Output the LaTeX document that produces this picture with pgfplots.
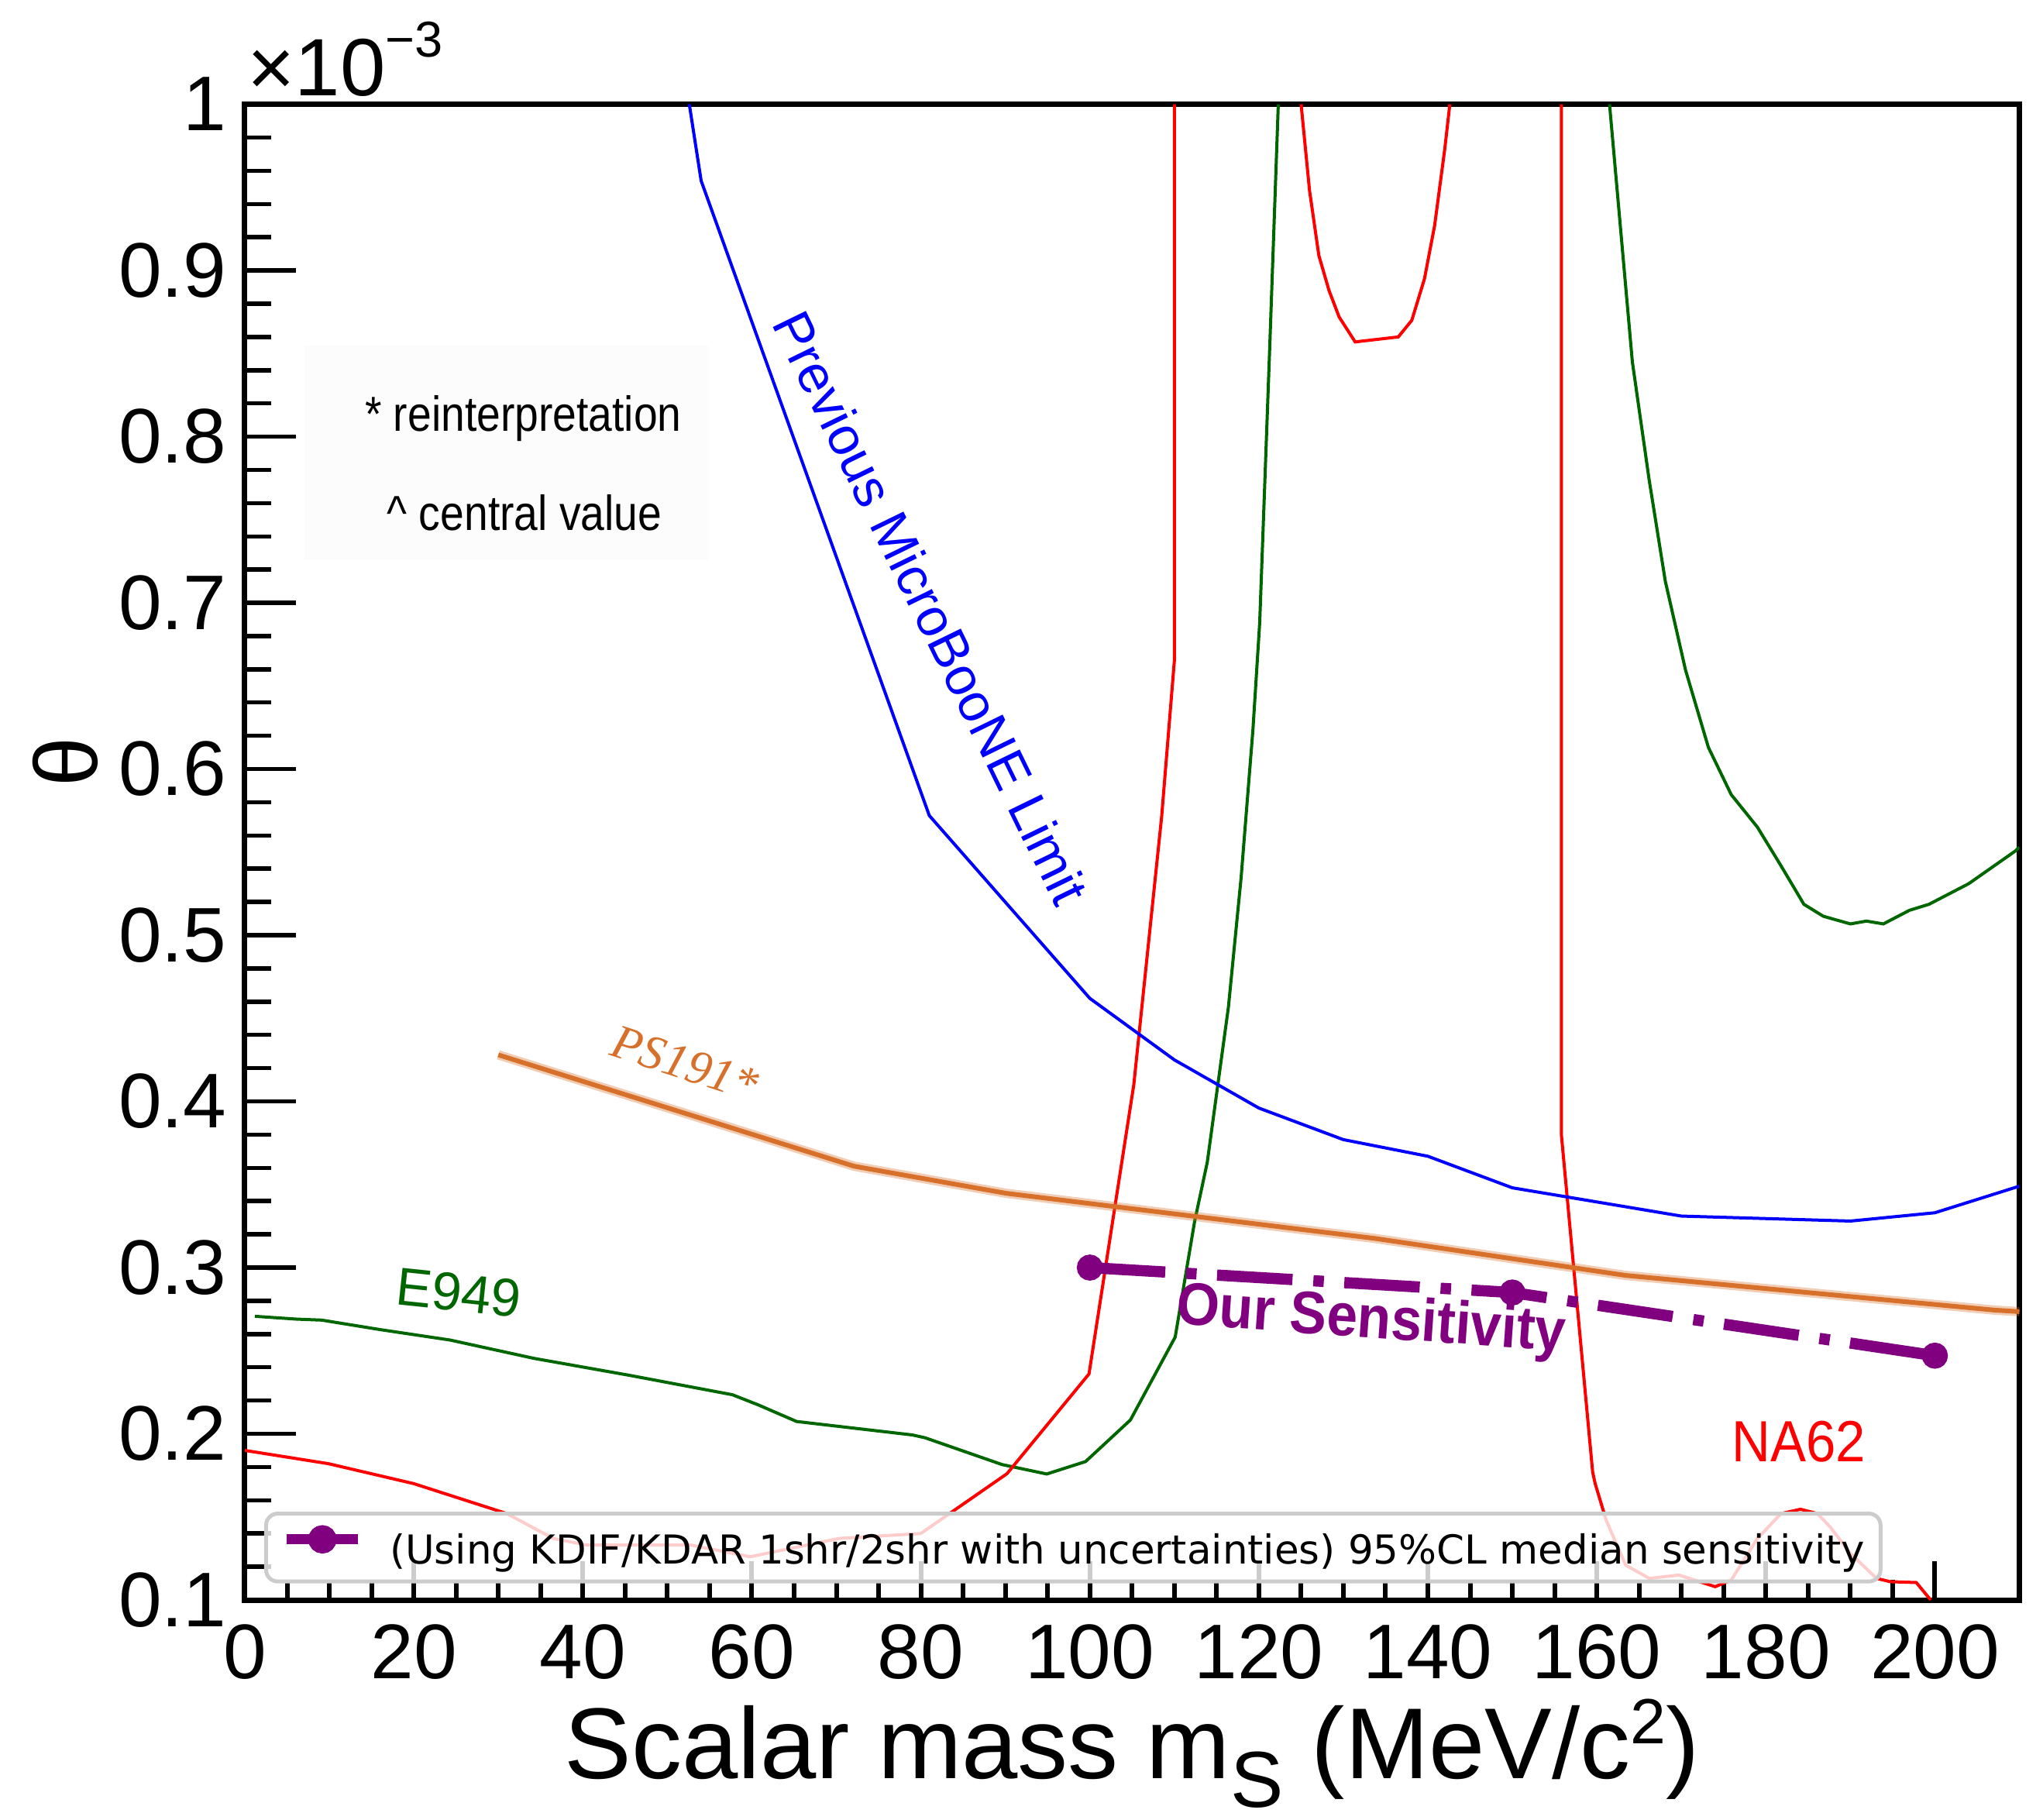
\documentclass[border=0pt]{standalone}
\usepackage{fontspec}
\setmainfont{Liberation Sans}
\newfontfamily\narrowfont{Liberation Sans}[FakeStretch=0.87]
\newfontfamily\boldnarrow{Liberation Sans}[FakeStretch=0.92]
\newfontfamily\serifit{Liberation Serif}
\newfontfamily\legfont{DejaVu Sans}
\usepackage{pgfplots}
\pgfplotsset{compat=1.18}
\definecolor{rgreen}{RGB}{0,102,0}
\definecolor{rorange}{RGB}{214,112,42}
\definecolor{rpurple}{RGB}{128,0,128}
\begin{document}
\begin{tikzpicture}
\path[use as bounding box] (-63.2pt,-56.6pt) rectangle (464.2pt,413.0pt);
\begin{axis}[
  at={(0pt,0pt)}, anchor=south west,
  scale only axis, width=458.1pt, height=386.1pt,
  xmin=0, xmax=210, ymin=0.1, ymax=1.0,
  clip mode=individual,
  axis line style={line width=1.4pt},
  tick align=inside, tick pos=left,
  xtick={0,20,40,60,80,100,120,140,160,180,200}, minor x tick num=3,
  ytick={0.1,0.2,0.3,0.4,0.5,0.6,0.7,0.8,0.9,1.0},
  yticklabels={0.1,0.2,0.3,0.4,0.5,0.6,0.7,0.8,0.9,1},
  minor y tick num=4,
  xtick style={black, line width=1.2pt, /pgfplots/major tick length=10pt, /pgfplots/minor tick length=5.3pt},
  ytick style={black, line width=1.1pt, /pgfplots/major tick length=13.2pt, /pgfplots/minor tick length=6.7pt},
  /pgf/number format/assume math mode=true,
  scaled y ticks=false,
  ticklabel style={font=\fontsize{20}{22}\selectfont},
  yticklabel style={xshift=-1.2pt},
  xticklabel style={yshift=-2.7pt},
  xlabel={Scalar mass m\smash{\raisebox{-7.3pt}{\fontsize{20.5}{20}\selectfont S}} (MeV/c\raisebox{9pt}{\fontsize{16.5}{17}\selectfont 2})},
  xlabel style={font=\fontsize{26}{28}\selectfont, at={(axis description cs:0.5,0)}, anchor=base, yshift=-46.1pt},
  ylabel={θ},
  ylabel style={font=\fontsize{23}{26}\selectfont, at={(axis description cs:-0.1013,0.56)}, anchor=center},
  legend style={at={(axis description cs:0.0109,0.0111)}, anchor=south west,
    draw=black!20, line width=1pt, fill=white, fill opacity=0.8, text opacity=1, draw opacity=1,
    rounded corners=3pt, inner xsep=4pt, inner ysep=3pt, nodes={inner sep=0pt},
    font=\legfont\fontsize{10.3}{12}\selectfont},
  legend cell align=left,
]
% E949 (green)
\addplot[rgreen, line width=0.8pt, forget plot] coordinates {
(1.2,0.2707) (6.1,0.269) (9.1,0.2684) (16.0,0.2627) (24.3,0.2564) (34.2,0.2454)
(45.6,0.2351) (57.7,0.2235) (60.8,0.2173) (65.3,0.2074) (79.0,0.1993) (80.5,0.1976)
(89.6,0.1815) (94.9,0.1758) (99.5,0.1833) (104.8,0.2083) (110.1,0.2582) (112.4,0.3278)
(113.9,0.3635) (116.4,0.4568) (117.9,0.5346) (119.3,0.6237) (120.1,0.688) (121.3,0.8556) (122.3,1.0)};
\addplot[rgreen, line width=0.8pt, forget plot] coordinates {
(161.5,1.0) (164.2,0.845) (166.2,0.7736) (168.1,0.713) (170.5,0.6594) (173.2,0.613)
(175.9,0.5846) (179.0,0.565) (181.8,0.5417) (184.5,0.5186) (186.8,0.5114) (190.0,0.5068)
(191.9,0.5085) (193.9,0.5068) (197.0,0.515) (199.3,0.5186) (204.0,0.531) (209.5,0.5506) (210,0.553)};
% NA62 (red)
\addplot[red, line width=0.8pt, forget plot] coordinates {
(0,0.190) (9.9,0.182) (20,0.170) (31,0.152) (36.5,0.137) (40.5,0.133) (52.8,0.133)
(59.8,0.126) (70.3,0.137) (80,0.140) (90.2,0.176) (99.9,0.236) (105.2,0.41) (108.5,0.5715)
(110,0.665) (110,1.0)};
\addplot[red, line width=0.8pt, forget plot] coordinates {
(125.0,1.0) (126.0,0.948) (127.1,0.909) (128.3,0.888) (129.5,0.872) (131.4,0.857)
(136.5,0.860) (138.1,0.870) (139.6,0.895) (140.8,0.927) (142.0,0.973) (142.6,1.0)};
\addplot[red, line width=0.8pt, forget plot] coordinates {
(155.8,1.0) (155.8,0.380) (159.5,0.177) (159.8,0.170) (161.1,0.148) (163.4,0.121)
(166.2,0.113) (169.7,0.115) (174.0,0.108) (175.9,0.112) (179.0,0.137) (181.8,0.152)
(184.1,0.1546) (186.1,0.152) (187.6,0.144) (190.0,0.128) (193.1,0.113) (194.7,0.111)
(197.8,0.1105) (199.5,0.100)};
% Previous MicroBooNE (blue)
\addplot[blue, line width=0.8pt, forget plot] coordinates {
(52.6,1.0) (54.0,0.954) (81.0,0.572) (100,0.462) (110,0.425) (120,0.396) (130,0.377)
(140,0.367) (150,0.348) (170,0.331) (190,0.328) (200,0.333) (210,0.349)};
% PS191 (orange)
\addplot[rorange, opacity=0.35, line width=2.4pt, forget plot] coordinates {
(30,0.428) (72.1,0.361) (90.1,0.3447) (133.8,0.3175) (163.4,0.2953) (207.1,0.2744) (210,0.2735)};
\addplot[rorange, line width=1.2pt, forget plot] coordinates {
(30,0.428) (72.1,0.361) (90.1,0.3447) (133.8,0.3175) (163.4,0.2953) (207.1,0.2744) (210,0.2735)};
% Our sensitivity (purple)
\addplot[rpurple, line width=2.9pt, dash pattern=on 19.5pt off 5.4pt on 2.7pt off 5.3pt,
  mark=*, mark size=1.9pt, mark options={solid, fill=rpurple},
  legend image code/.code={
    \draw[rpurple, line width=2.6pt, solid] (0pt,3.2pt) -- (18.5pt,3.2pt);
    \fill[rpurple] (9.25pt,3.2pt) circle (2.2pt);
    \path (25.2pt,3.2pt);}]
  coordinates {(100,0.300) (150,0.285) (200,0.247)};
\addlegendentry{(Using KDIF/KDAR 1shr/2shr with uncertainties) 95\%CL median sensitivity}
% annotations
\fill[black!1.2] (axis cs:7.1,0.855) rectangle (axis cs:54.8,0.7256);
\node[anchor=base, font=\narrowfont\fontsize{12.7}{14}\selectfont] at (axis cs:32.95,0.8032) {* reinterpretation};
\node[anchor=base, font=\narrowfont\fontsize{12.7}{14}\selectfont] at (axis cs:33.1,0.7436) {\textasciicircum{} central value};
\node[text=blue, rotate=-64, font=\fontsize{13.8}{15}\selectfont] at (axis cs:81.2,0.697) {Previous MicroBooNE Limit};
\node[text=rorange, rotate=-18, font=\serifit\itshape\fontsize{12.5}{14}\selectfont] at (axis cs:52.1,0.4228) {PS191*};
\node[text=rgreen, rotate=-6, font=\fontsize{13.8}{16}\selectfont] at (axis cs:25.3,0.285) {E949};
\node[text=rpurple, rotate=-4, font=\boldnarrow\bfseries\fontsize{15.5}{17}\selectfont] at (axis cs:133.3,0.2672) {Our Sensitivity};
\node[text=red, font=\boldnarrow\fontsize{15}{17}\selectfont] at (axis cs:183.9,0.1951) {NA62};
\node[anchor=base west, inner sep=0pt, font=\fontsize{21}{24}\selectfont, xshift=0.5pt, yshift=2.2pt] at (rel axis cs:0,1) {×10\raisebox{10pt}{\fontsize{13}{14}\selectfont −3}};
\end{axis}
\end{tikzpicture}
\end{document}
